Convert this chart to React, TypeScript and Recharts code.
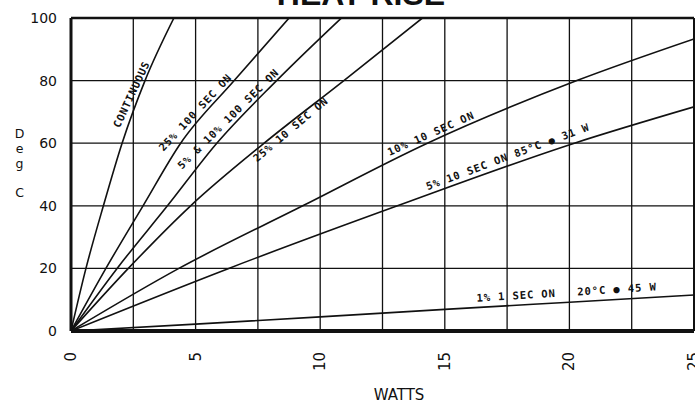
import { LineChart, Line, XAxis, YAxis, ReferenceLine, ReferenceDot } from 'recharts';

// axis ticks and grid spacing
const wattTicks = [0, 5, 10, 15, 20, 25];
const degTicks = [0, 20, 40, 60, 80, 100];
const wattGrid = [2.5, 5, 7.5, 10, 12.5, 15, 17.5, 20, 22.5];
const degGrid = [20, 40, 60, 80];

// curves (watts -> deg C rise)
const continuous = [
  { w: 0, t: 0 }, { w: 0.6, t: 20 }, { w: 1.3, t: 40 }, { w: 2.05, t: 60 }, { w: 2.97, t: 80 }, { w: 4.13, t: 100 },
];
const duty25of100 = [
  { w: 0, t: 0 }, { w: 1.4, t: 20 }, { w: 2.89, t: 40 }, { w: 4.4, t: 60 }, { w: 6.55, t: 80 }, { w: 8.75, t: 100 },
];
const duty5and10of100 = [
  { w: 0, t: 0 }, { w: 1.85, t: 20 }, { w: 3.87, t: 40 }, { w: 5.85, t: 60 }, { w: 8.25, t: 80 }, { w: 10.85, t: 100 },
];
const duty25of10 = [
  { w: 0, t: 0 }, { w: 2.3, t: 20 }, { w: 4.8, t: 40 }, { w: 7.75, t: 60 }, { w: 10.95, t: 80 }, { w: 14.1, t: 100 },
];
const duty10of10 = [
  { w: 0, t: 0 }, { w: 4.33, t: 20 }, { w: 9.3, t: 40 }, { w: 14.3, t: 60 }, { w: 20.3, t: 80 }, { w: 25, t: 93.3 },
];
const duty5of10 = [
  { w: 0, t: 0 }, { w: 6.33, t: 20 }, { w: 13.1, t: 40 }, { w: 20.2, t: 60 }, { w: 25, t: 71.6 },
];
const duty1of1 = [
  { w: 0, t: 0 }, { w: 5, t: 2.2 }, { w: 10, t: 4.5 }, { w: 15, t: 6.9 }, { w: 20, t: 9.2 }, { w: 25, t: 11.5 },
];

const curves = [continuous, duty25of100, duty5and10of100, duty25of10, duty10of10, duty5of10, duty1of1];

// text written along each curve, anchored in data space
const curveNotes = [
  { text: 'CONTINUOUS', w: 2.49, t: 75.4, angle: -65 },
  { text: '25% 100 SEC ON', w: 5.04, t: 69.5, angle: -47 },
  { text: '5% & 10% 100 SEC ON', w: 6.36, t: 67.4, angle: -44.7 },
  { text: '25% 10 SEC ON', w: 8.86, t: 64.0, angle: -40 },
  { text: '10% 10 SEC ON', w: 14.47, t: 62.6, angle: -24 },
  { text: '5% 10 SEC ON 85°C ● 31 W', w: 17.55, t: 55.2, angle: -20.3 },
  { text: '1% 1 SEC ON   20°C ● 45 W', w: 19.89, t: 11.8, angle: -3.6 },
];

const INK = '#111';
const noteFont = { fontFamily: '"DejaVu Sans Mono", monospace', fontSize: 10.5, fontWeight: 700, letterSpacing: 0.9 };

function WattTick({ x, y, payload }: any) {
  return (
    <text
      x={x}
      y={y}
      transform={`rotate(-90 ${x} ${y})`}
      textAnchor="end"
      dominantBaseline="central"
      fill={INK}
      fontSize={15}
      fontFamily="DejaVu Sans, sans-serif"
    >
      {payload.value}
    </text>
  );
}

function DegLabel({ viewBox }: any) {
  const x = viewBox.x + 8.5;
  const letters = [
    { ch: 'D', y: 138 },
    { ch: 'e', y: 153 },
    { ch: 'g', y: 168 },
    { ch: 'C', y: 197 },
  ];
  return (
    <g>
      {letters.map((l) => (
        <text key={l.ch} x={x} y={l.y} textAnchor="middle" fill={INK} fontSize={12.5} fontFamily="DejaVu Sans, sans-serif">
          {l.ch}
        </text>
      ))}
    </g>
  );
}

function WattsLabel({ viewBox }: any) {
  return (
    <text x={viewBox.x + 328} y={400} textAnchor="middle" fill={INK} fontSize={15} fontFamily="DejaVu Sans, sans-serif">
      WATTS
    </text>
  );
}

export default function App() {
  return (
    <div style={{ position: 'absolute', left: 0, top: 0, width: 695, height: 404, overflow: 'hidden', background: '#fff' }}>
      <svg width={695} height={30} style={{ position: 'absolute', left: 0, top: 0 }}>
        <text x={361} y={5} textAnchor="middle" fontSize={32} fontWeight={700} fontFamily="Liberation Sans, Arial, sans-serif" fill={INK}>
          HEAT RISE
        </text>
      </svg>
      <LineChart width={720} height={404} margin={{ top: 18, right: 26, bottom: 23, left: 11 }}>
        <XAxis
          type="number"
          dataKey="w"
          domain={[0, 25]}
          ticks={wattTicks}
          allowDataOverflow
          height={50}
          tickSize={0}
          tickMargin={21}
          tick={<WattTick />}
          axisLine={{ stroke: INK, strokeWidth: 4 }}
          label={<WattsLabel />}
        />
        <YAxis
          type="number"
          dataKey="t"
          domain={[0, 100]}
          ticks={degTicks}
          allowDataOverflow
          width={60}
          tickSize={0}
          tickMargin={14}
          tickLine={false}
          tick={{ fill: INK, fontSize: 14, fontFamily: 'DejaVu Sans, sans-serif' }}
          axisLine={{ stroke: INK, strokeWidth: 3 }}
          label={<DegLabel />}
        />
        {wattGrid.map((v) => (
          <ReferenceLine key={`gx-${v}`} x={v} stroke={INK} strokeWidth={1.3} />
        ))}
        {degGrid.map((v) => (
          <ReferenceLine key={`gy-${v}`} y={v} stroke={INK} strokeWidth={1.3} />
        ))}
        <ReferenceLine y={100} stroke={INK} strokeWidth={2.5} />
        <ReferenceLine x={25} stroke={INK} strokeWidth={2} />
        {curves.map((data, i) => (
          <Line
            key={`c-${i}`}
            data={data}
            dataKey="t"
            type="monotone"
            stroke={INK}
            strokeWidth={1.6}
            dot={false}
            activeDot={false}
            isAnimationActive={false}
          />
        ))}
        {curveNotes.map((n) => (
          <ReferenceDot
            key={n.text}
            x={n.w}
            y={n.t}
            r={0}
            shape={(p: any) => (
              <text
                x={p.cx}
                y={p.cy}
                dy={-2}
                transform={`rotate(${n.angle} ${p.cx} ${p.cy})`}
                textAnchor="middle"
                dominantBaseline="central"
                fill={INK}
                style={{ ...noteFont, whiteSpace: 'pre' }}
              >
                {n.text}
              </text>
            )}
          />
        ))}
      </LineChart>
    </div>
  );
}
